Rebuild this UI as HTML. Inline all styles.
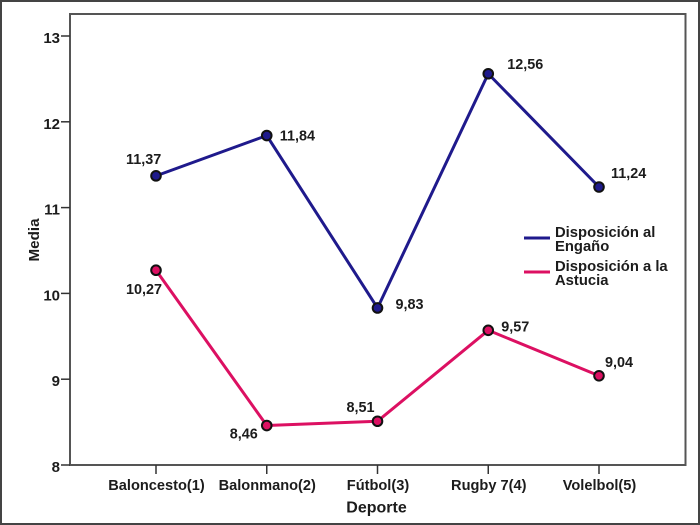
<!DOCTYPE html>
<html lang="es">
<head>
<meta charset="utf-8">
<title>Media por Deporte</title>
<style>
html,body{margin:0;padding:0;background:#fff;}
svg{display:block;}
text{font-family:"Liberation Sans",sans-serif;font-weight:bold;fill:#1c1c1c;}
</style>
</head>
<body>
<svg id="chart" xmlns="http://www.w3.org/2000/svg" width="700" height="525" viewBox="0 0 700 525"></svg>
<script>
const categories = ['Baloncesto(1)', 'Balonmano(2)', 'Fútbol(3)', 'Rugby 7(4)', 'Volelbol(5)'];
const yTicks = [8, 9, 10, 11, 12, 13];
const enganoValues = [11.37, 11.84, 9.83, 12.56, 11.24];
const astuciaValues = [10.27, 8.46, 8.51, 9.57, 9.04];
const enganoLabels = ['11,37', '11,84', '9,83', '12,56', '11,24'];
const astuciaLabels = ['10,27', '8,46', '8,51', '9,57', '9,04'];
const enganoPlacement = ['above-left', 'right', 'right-low', 'above-right', 'above-right-near'];
const astuciaPlacement = ['below-left', 'below-left-near', 'above-left-near', 'right-high', 'above-right-close'];

const svg = document.getElementById('chart');
const NS = 'http://www.w3.org/2000/svg';
const plot = {left: 70, right: 685.5, top: 14, bottom: 465};
const placements = {
  'above-left': {dx: -30, dy: -12},
  'right': {dx: 13, dy: 5},
  'right-low': {dx: 18, dy: 1},
  'above-right': {dx: 19, dy: -5},
  'above-right-near': {dx: 12, dy: -9},
  'below-left': {dx: -30, dy: 24},
  'below-left-near': {dx: -37, dy: 13},
  'above-left-near': {dx: -31, dy: -9},
  'right-high': {dx: 13, dy: 1},
  'above-right-close': {dx: 6, dy: -9}
};

function xScale(i) { return 156 + i * 110.75; }
function yScale(v) { return 465 - (v - 8) * 85.8; }

function make(tag, attrs, parent) {
  const el = document.createElementNS(NS, tag);
  for (const k in attrs) el.setAttribute(k, attrs[k]);
  (parent || svg).appendChild(el);
  return el;
}

const frame = make('rect', {x: 1, y: 1, width: 698, height: 523, fill: '#fff', stroke: '#444', 'stroke-width': 2});



const plotArea = make('rect', {x: plot.left, y: plot.top, width: plot.right - plot.left, height: plot.bottom - plot.top, fill: '#fff', stroke: '#555', 'stroke-width': 2});



yTicks.forEach(function (t) {
  const y = yScale(t);
  const tick = make('line', {x1: 61, x2: plot.left, y1: y, y2: y, stroke: '#333', 'stroke-width': 1.5});
  
  
  const label = make('text', {x: 60, y: y + 7, 'text-anchor': 'end', 'font-size': 15});
  label.textContent = t;
  
  
});

categories.forEach(function (c, i) {
  const x = xScale(i);
  const tick = make('line', {x1: x, x2: x, y1: plot.bottom, y2: 474, stroke: '#333', 'stroke-width': 1.5});
  
  
  const label = make('text', {x: x + 0.5, y: 490, 'text-anchor': 'middle', 'font-size': 14.6});
  label.textContent = c;
  
  
});

const xTitle = make('text', {x: 376.5, y: 512.5, 'text-anchor': 'middle', 'font-size': 16});
xTitle.textContent = 'Deporte';



const yTitle = make('text', {x: 0, y: 0, 'text-anchor': 'middle', 'font-size': 15.2, transform: 'translate(39 240) rotate(-90)'});
yTitle.textContent = 'Media';



function drawSeries(key, values, labels, placement, color) {
  const pts = values.map(function (v, i) { return xScale(i) + ',' + yScale(v); }).join(' ');
  const line = make('polyline', {points: pts, fill: 'none', stroke: color, 'stroke-width': 3, 'stroke-linejoin': 'round'});
  
  
  values.forEach(function (v, i) {
    const pt = make('circle', {cx: xScale(i), cy: yScale(v), r: 4.8, fill: color, stroke: '#111', 'stroke-width': 2});
    
    
    const off = placements[placement[i]];
    const label = make('text', {x: xScale(i) + off.dx, y: yScale(v) + off.dy, 'font-size': 14.4});
    label.textContent = labels[i];
    
    
  });
}

drawSeries('engano', enganoValues, enganoLabels, enganoPlacement, '#1f1a8c');
drawSeries('astucia', astuciaValues, astuciaLabels, astuciaPlacement, '#dc1062');

const legendEngano = make('g', {});


make('line', {x1: 524, x2: 550, y1: 238, y2: 238, stroke: '#1f1a8c', 'stroke-width': 3}, legendEngano);
make('text', {x: 555, y: 237, 'font-size': 14.8}, legendEngano).textContent = 'Disposición al';
make('text', {x: 555, y: 251, 'font-size': 14.8}, legendEngano).textContent = 'Engaño';

const legendAstucia = make('g', {});


make('line', {x1: 524, x2: 550, y1: 272, y2: 272, stroke: '#dc1062', 'stroke-width': 3}, legendAstucia);
make('text', {x: 555, y: 271, 'font-size': 14.8}, legendAstucia).textContent = 'Disposición a la';
make('text', {x: 555, y: 285, 'font-size': 14.8}, legendAstucia).textContent = 'Astucia';
</script>
</body>
</html>
